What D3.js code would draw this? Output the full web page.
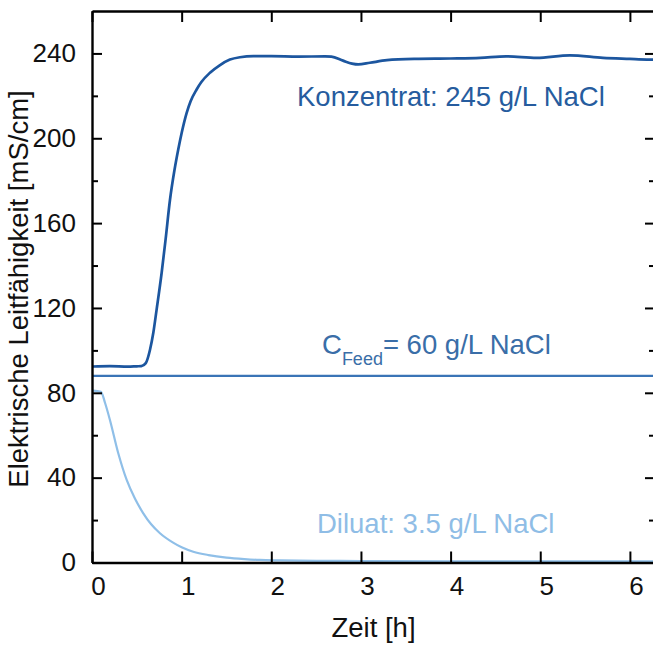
<!DOCTYPE html>
<html>
<head>
<meta charset="utf-8">
<script src="https://cdn.jsdelivr.net/npm/d3@7"></script>
<style>
  body { margin: 0; background: #fff; }
  svg { display: block; }
  text { font-family: Arial, "Liberation Sans", Helvetica, sans-serif; }
</style>
</head>
<body>
<div id="chart"></div>
<script>
// Zeit [h] / Leitfähigkeit [mS/cm]
var konzT = [0.01, 0.2, 0.4, 0.5, 0.55, 0.6, 0.647, 0.684, 0.72, 0.777, 0.82, 0.87, 0.92, 0.962, 1.0, 1.056, 1.1, 1.167, 1.22, 1.316, 1.42, 1.539, 1.65, 1.8, 2.0, 2.3, 2.6, 2.67, 2.8, 2.9, 2.97, 3.1, 3.29, 3.6, 4.0, 4.33, 4.62, 4.96, 5.33, 5.7, 6.0, 6.19, 6.3];
var konzV = [92.4, 92.6, 92.3, 92.5, 92.6, 94, 100.3, 108.3, 119, 136.6, 152, 171, 185, 194.7, 202.5, 212, 217.5, 223, 226.5, 230.9, 234.3, 237.1, 238.2, 238.7, 238.7, 238.5, 238.6, 238.5, 236.6, 235.2, 234.8, 235.6, 236.8, 237.4, 237.6, 237.9, 238.6, 237.9, 239.1, 237.9, 237.4, 237.1, 237.0];

var feedT = [0, 6.3];
var feedV = [88, 88];

var dilT = [0.01, 0.1, 0.145, 0.2, 0.293, 0.387, 0.48, 0.572, 0.66, 0.758, 0.9, 1.0, 1.13, 1.3, 1.5, 1.7, 1.87, 2.1, 2.5, 3.0, 4.0, 5.0, 6.0, 6.3];
var dilV = [81, 80.5, 75.3, 67.2, 51.5, 38.9, 30, 23.2, 18, 13.8, 9.5, 7.2, 5.1, 3.5, 2.3, 1.6, 1.2, 1.0, 0.8, 0.7, 0.6, 0.6, 0.6, 0.6];

var xTicks = [0, 1, 2, 3, 4, 5, 6];
var yTicks = [0, 40, 80, 120, 160, 200, 240];
var yMinor = [20, 60, 100, 140, 180, 220];

var width = 653, height = 646;
var mLeft = 92, mTop = 11, mRight = 655, mBottom = 562.5;

var colKonz = "#1c569f", colFeed = "#3a74b6", colDil = "#8fbfe8";

var svg = d3.select("#chart").append("svg")
	.attr("width", width)
	.attr("height", height);

var x = d3.scaleLinear().domain([0, 6.28]).range([mLeft, mRight]);
var y = d3.scaleLinear().domain([0, 260]).range([mBottom, mTop]);

function zip(ts, vs) { return ts.map(function(t, i) { return [t, vs[i]]; }); }

var line = d3.line()
	.x(function(d) { return x(d[0]); })
	.y(function(d) { return y(d[1]); })
	.curve(d3.curveMonotoneX);

// data lines
svg.append("path").datum(zip(feedT, feedV))
	.attr("d", line).attr("fill", "none")
	.attr("stroke", colFeed).attr("stroke-width", 2.2);

svg.append("path").datum(zip(dilT, dilV))
	.attr("d", line).attr("fill", "none")
	.attr("stroke", colDil).attr("stroke-width", 2.2);

svg.append("path").datum(zip(konzT, konzV))
	.attr("d", line).attr("fill", "none")
	.attr("stroke", colKonz).attr("stroke-width", 2.7);

// axes, ticks pointing inwards
var axisW = 2.4;
var fmt = d3.format("d");
var gB = svg.append("g").attr("transform", "translate(0," + mBottom + ")")
	.call(d3.axisBottom(x).tickValues(xTicks).tickFormat(fmt).tickSizeInner(-11).tickSizeOuter(0).tickPadding(14));
var gT = svg.append("g").attr("transform", "translate(0," + mTop + ")")
	.call(d3.axisTop(x).tickValues(xTicks).tickSizeInner(-11).tickSizeOuter(0).tickFormat(""));
var gL = svg.append("g").attr("transform", "translate(" + mLeft + ",0)")
	.call(d3.axisLeft(y).tickValues(yTicks).tickFormat(fmt).tickSizeInner(-10).tickSizeOuter(0).tickPadding(16));
var gR = svg.append("g").attr("transform", "translate(" + mRight + ",0)")
	.call(d3.axisRight(y).tickValues(yTicks).tickSizeInner(-10).tickSizeOuter(0).tickFormat(""));
var gLm = svg.append("g").attr("transform", "translate(" + mLeft + ",0)")
	.call(d3.axisLeft(y).tickValues(yMinor).tickSizeInner(-6).tickSizeOuter(0).tickFormat(""));
var gRm = svg.append("g").attr("transform", "translate(" + mRight + ",0)")
	.call(d3.axisRight(y).tickValues(yMinor).tickSizeInner(-6).tickSizeOuter(0).tickFormat(""));

[gB, gT, gL, gR, gLm, gRm].forEach(function(g) {
	g.select(".domain").attr("stroke", "#000").attr("stroke-width", axisW);
	g.selectAll(".tick line").attr("stroke", "#000").attr("stroke-width", 2);
	g.selectAll("text").attr("font-size", 26).attr("fill", "#111")
		.style("font-family", "Arial, 'Liberation Sans', Helvetica, sans-serif");
});
gB.selectAll("text").attr("dx", 6);
gLm.select(".domain").remove();
gRm.select(".domain").remove();

// axis titles
svg.append("text")
	.attr("x", (mLeft + mRight) / 2).attr("y", 637)
	.attr("text-anchor", "middle").attr("font-size", 27.5).attr("fill", "#111")
	.text("Zeit [h]");

svg.append("text")
	.attr("transform", "translate(28," + 289 + ") rotate(-90)")
	.attr("text-anchor", "middle").attr("font-size", 27.5).attr("fill", "#111")
	.text("Elektrische Leitfähigkeit [mS/cm]");

// annotations
svg.append("text")
	.attr("x", 297).attr("y", 106)
	.attr("font-size", 27.5).attr("fill", "#265c9e")
	.text("Konzentrat: 245 g/L NaCl");

var feedLabel = svg.append("text")
	.attr("x", 322).attr("y", 354)
	.attr("font-size", 27.5).attr("fill", "#3a6ea8");
feedLabel.append("tspan").text("C");
feedLabel.append("tspan").attr("font-size", 18).attr("dy", 11).text("Feed");
feedLabel.append("tspan").attr("dy", -11).text("= 60 g/L NaCl");

svg.append("text")
	.attr("x", 317).attr("y", 533)
	.attr("font-size", 27.5).attr("fill", "#8fbde6")
	.text("Diluat: 3.5 g/L NaCl");
</script>
</body>
</html>
